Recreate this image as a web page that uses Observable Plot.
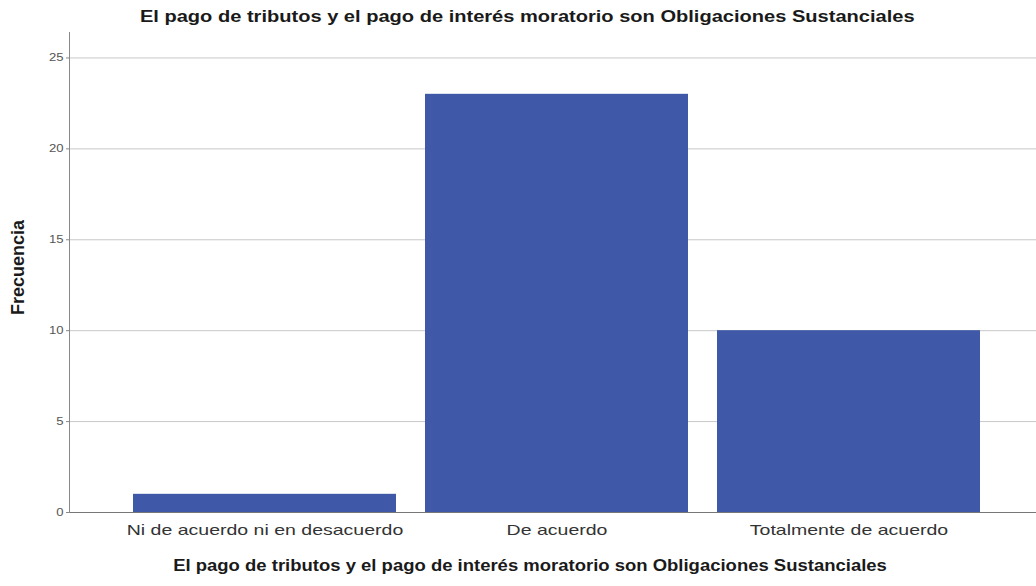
<!DOCTYPE html>
<html>
<head>
<meta charset="utf-8">
<script src="https://cdn.jsdelivr.net/npm/d3@7"></script>
<script src="https://cdn.jsdelivr.net/npm/@observablehq/plot@0.6"></script>
<style>
  html, body { margin: 0; padding: 0; background: #fff; }
  body { width: 1036px; height: 586px; overflow: hidden; font-family: "Liberation Sans", Arial, sans-serif; }
  #title { height: 30px; line-height: 34px; text-align: center; padding-left: 18px; box-sizing: border-box; width: 1036px;
           font-weight: bold; font-size: 17px; color: #1a1a1a; }
  #title span { display: inline-block; transform: scaleX(1.18); }
  svg { display: block; }
</style>
</head>
<body>
<div id="title"><span>El pago de tributos y el pago de interés moratorio son Obligaciones Sustanciales</span></div>
<div id="chart"></div>
<script>
const categories = ["Ni de acuerdo ni en desacuerdo", "De acuerdo", "Totalmente de acuerdo"];
const frecuencias = [1, 23, 10];
const yTicks = [0, 5, 10, 15, 20, 25];
const xTitle = "El pago de tributos y el pago de interés moratorio son Obligaciones Sustanciales";
const yTitle = "Frecuencia";

const data = categories.map((c, i) => ({categoria: c, frecuencia: frecuencias[i]}));

const chart = Plot.plot({
  width: 1036,
  height: 556,
  marginLeft: 69,
  marginRight: 0,
  marginTop: 2,
  marginBottom: 74,
  style: {fontFamily: "'Liberation Sans', Arial, sans-serif", background: "#fff"},
  x: {domain: categories, paddingInner: 0.1, paddingOuter: 0.2035, align: 0.53, label: null},
  y: {domain: [0, 26.4], label: null},
  marks: [
    Plot.gridY(yTicks.filter(d => d > 0), {stroke: "#c8c8c8", strokeOpacity: 1, strokeWidth: 1}),
    Plot.barY(data, {x: "categoria", y: "frecuencia", fill: "#3f58a7"}),
    Plot.ruleY([0], {stroke: "#777", strokeWidth: 1}),
    Plot.frame({anchor: "left", stroke: "#888"}),
    Plot.axisY({ticks: yTicks, tickSize: 3, tickPadding: 3, fontSize: 10.5, color: "#555", label: null, stroke: "#888", className: "ytick"}),
    Plot.axisX({tickSize: 0, tickPadding: 12, fontSize: 15, color: "#333", label: null, className: "xtick"}),
    Plot.text([xTitle], {frameAnchor: "bottom", dy: 53, dx: -23, fontWeight: "bold", fontSize: 16.5, fill: "#1a1a1a", lineAnchor: "middle", className: "xtitle"}),
    Plot.text([yTitle], {frameAnchor: "left", textAnchor: "middle", dx: -51, dy: -5, rotate: -90, fontWeight: "bold", fontSize: 18, fill: "#1a1a1a", className: "ytitle"})
  ]
});
document.getElementById("chart").appendChild(chart);

// horizontal stretch of glyphs to match the reference's wide lettering
function stretch(cls, factor) {
  d3.select(chart).selectAll("." + cls + " text").each(function() {
    const len = this.getComputedTextLength();
    this.setAttribute("textLength", len * factor);
    this.setAttribute("lengthAdjust", "spacingAndGlyphs");
  });
}
stretch("ytick", 1.25);
stretch("xtick", 1.3);
stretch("xtitle", 1.12);
</script>
</body>
</html>
